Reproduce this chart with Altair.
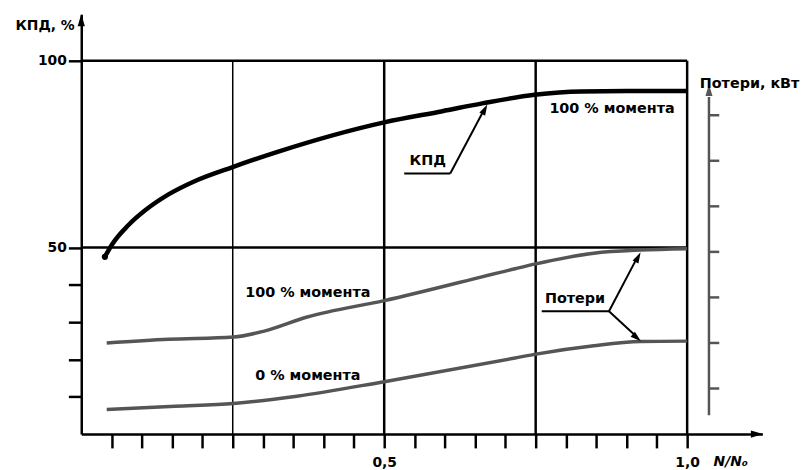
import altair as alt
import pandas as pd

# ---------------- data ----------------
# КПД curve: N/N0 and efficiency, %
eff_n = [0.039, 0.05, 0.078, 0.106, 0.144, 0.188, 0.251, 0.324, 0.5, 0.596, 0.662, 0.748, 0.825, 0.9, 1.0]
eff_pct = [47.5, 50.6, 56.0, 60.0, 64.2, 67.8, 71.6, 75.6, 83.5, 86.5, 88.6, 90.9, 91.8, 91.9, 91.9]

# Losses, kW (right axis) at 100 % torque
loss100_n = [0.042, 0.144, 0.251, 0.302, 0.373, 0.5, 0.716, 0.748, 0.846, 0.923, 1.0]
loss100_kw = [2.0, 2.08, 2.13, 2.26, 2.57, 2.93, 3.63, 3.73, 3.97, 4.04, 4.07]

# Losses, kW at 0 % torque
loss0_n = [0.042, 0.155, 0.251, 0.356, 0.5, 0.716, 0.748, 0.846, 0.923, 1.0]
loss0_kw = [0.54, 0.61, 0.67, 0.83, 1.15, 1.67, 1.75, 1.94, 2.03, 2.04]

x_ticks = [round(0.05 * i, 2) for i in range(1, 21)]
y_ticks = [10, 20, 30, 40, 50, 100]
grid_major_n = [0.5, 0.75, 1.0]
grid_minor_n = [0.25]
grid_h_pct = [50, 100]
loss_ticks_kw = [1, 2, 3, 4, 5, 6, 7]

label_text = ["КПД", "100 % момента", "100 % момента", "0 % момента", "Потери", "Потери, кВт"]
label_n = [0.572, 0.876, 0.374, 0.374, 0.815, 1.103]
label_pct = [73.2, 87.0, 37.9, 15.6, 36.1, 93.9]

# ---------------- scales / helpers ----------------
FONT = "DejaVu Sans"
GRAY = "#555555"
X_MAX = 1.1242          # x-axis arrow end
Y_MAX = 112.47          # y-axis arrow end (%)
KW_MAX = 9.217          # same height on the loss scale
RIGHT_AXIS_N = 1.036    # position of the "Потери" axis
ARROW = "M0,-1L0.6,1L-0.6,1Z"

xscale = alt.Scale(domain=[0, X_MAX], nice=False, zero=False)
pscale = alt.Scale(domain=[0, Y_MAX], nice=False, zero=False)
kscale = alt.Scale(domain=[0, KW_MAX], nice=False, zero=False)

xaxis = alt.Axis(
    values=x_ticks,
    labelExpr="datum.value == 0.5 ? '0,5' : (datum.value == 1 ? '1,0' : '')",
    tickSize=14, tickWidth=2.5, tickColor="black",
    domainWidth=2.5, domainColor="black",
    labelFont=FONT, labelFontWeight="bold", labelFontSize=14, labelColor="black",
    labelPadding=8, labelFlush=False, labelOverlap=False, grid=False,
)

yaxis = alt.Axis(
    values=y_ticks,
    labelExpr="(datum.value == 50 || datum.value == 100) ? datum.label : ''",
    tickSize=13, tickWidth=2.5, tickColor="black",
    domainWidth=2.5, domainColor="black",
    labelFont=FONT, labelFontWeight="bold", labelFontSize=14, labelColor="black",
    labelPadding=2, labelOverlap=False, grid=False,
    title="КПД, %", titleAngle=0, titleX=-37, titleY=11,
    titleAlign="center", titleBaseline="middle",
    titleFont=FONT, titleFontWeight="bold", titleFontSize=14, titleColor="black",
)


def X(field="n"):
    return alt.X(field, type="quantitative", scale=xscale, axis=xaxis, title="")


def YP(field="pct", axis=None):
    return alt.Y(field, type="quantitative", scale=pscale, axis=axis, title="")


def YK(field="kw"):
    return alt.Y(field, type="quantitative", scale=kscale, axis=None, title="")


def arrow_head(df, y_enc, color, size, angle=0):
    return (
        alt.Chart(df)
        .mark_point(shape=ARROW, filled=True, color=color, size=size, opacity=1,
                    angle=angle, strokeWidth=0)
        .encode(x=X(), y=y_enc)
    )


layers = []

# efficiency curve (carries the axes)
eff_df = pd.DataFrame({"n": eff_n, "pct": eff_pct})
layers.append(
    alt.Chart(eff_df).mark_line(color="black", strokeWidth=4.5, interpolate="monotone")
    .encode(x=X(), y=YP(axis=yaxis))
)
layers.append(
    alt.Chart(eff_df.head(1)).mark_point(filled=True, color="black", size=40, opacity=1)
    .encode(x=X(), y=YP())
)

# grid lines
gmaj = pd.DataFrame({"n": grid_major_n, "lo": 0, "hi": 100})
layers.append(
    alt.Chart(gmaj).mark_rule(color="black", strokeWidth=2.5)
    .encode(x=X(), y=YP("lo"), y2="hi")
)
gmin = pd.DataFrame({"n": grid_minor_n, "lo": 0, "hi": 100})
layers.append(
    alt.Chart(gmin).mark_rule(color="black", strokeWidth=1.5)
    .encode(x=X(), y=YP("lo"), y2="hi")
)
gh = pd.DataFrame({"pct": grid_h_pct, "n": 0, "n2": 1.0})
layers.append(
    alt.Chart(gh).mark_rule(color="black", strokeWidth=2.5)
    .encode(x=X(), x2="n2", y=YP())
)

# loss curves
l100 = pd.DataFrame({"n": loss100_n, "kw": loss100_kw})
layers.append(
    alt.Chart(l100).mark_line(color=GRAY, strokeWidth=3.5, interpolate="monotone")
    .encode(x=X(), y=YK())
)
l0 = pd.DataFrame({"n": loss0_n, "kw": loss0_kw})
layers.append(
    alt.Chart(l0).mark_line(color=GRAY, strokeWidth=3.5, interpolate="monotone")
    .encode(x=X(), y=YK())
)

# right "Потери" axis
rax = pd.DataFrame({"n": [RIGHT_AXIS_N], "lo": [0.41], "hi": [7.4]})
layers.append(
    alt.Chart(rax).mark_rule(color=GRAY, strokeWidth=2.5)
    .encode(x=X(), y=YK("lo"), y2="hi")
)
rt = pd.DataFrame({"kw": loss_ticks_kw, "n": RIGHT_AXIS_N, "n2": RIGHT_AXIS_N + 0.017})
layers.append(
    alt.Chart(rt).mark_rule(color=GRAY, strokeWidth=2.5)
    .encode(x=X(), x2="n2", y=YK())
)
layers.append(arrow_head(pd.DataFrame({"n": [RIGHT_AXIS_N], "kw": [7.55]}), YK(), GRAY, 140))

# axis arrow heads
layers.append(arrow_head(pd.DataFrame({"n": [0], "pct": [Y_MAX - 1.6]}), YP(), "black", 150))
layers.append(arrow_head(pd.DataFrame({"n": [X_MAX - 0.009], "pct": [0]}), YP(), "black", 150, 90))

# leader lines (underlines + pointers)
leaders = pd.DataFrame({
    "n": [0.533, 0.609, 0.760, 0.871, 0.871],
    "pct": [69.8, 69.8, 32.9, 32.9, 32.9],
    "n2": [0.609, 0.662, 0.871, 0.916, 0.913],
    "pct2": [69.8, 86.0, 32.9, 46.8, 26.6],
})
layers.append(
    alt.Chart(leaders).mark_rule(color="black", strokeWidth=2)
    .encode(x=X(), x2="n2", y=YP(), y2="pct2")
)
for n, p, ang in [(0.666, 87.0, 28), (0.919, 47.4, 28), (0.917, 25.8, 131)]:
    layers.append(arrow_head(pd.DataFrame({"n": [n], "pct": [p]}), YP(), "black", 120, ang))

# text annotations
txt = pd.DataFrame({"n": label_n, "pct": label_pct, "t": label_text})
layers.append(
    alt.Chart(txt).mark_text(font=FONT, fontWeight="bold", fontSize=14.5, color="black",
                             align="center", baseline="middle")
    .encode(x=X(), y=YP(), text="t")
)
layers.append(
    alt.Chart(pd.DataFrame({"n": [1.072], "pct": [-7.6], "t": ["N/N₀"]}))
    .mark_text(font=FONT, fontWeight="bold", fontStyle="italic", fontSize=14, color="black",
               align="center", baseline="middle")
    .encode(x=X(), y=YP(), text="t")
)

chart = (
    alt.layer(*layers)
    .resolve_scale(y="independent")
    .properties(
        width=688, height=424,
        autosize=alt.AutoSizeParams(type="none"),
        padding={"left": 74, "top": 4, "right": 40, "bottom": 36},
        background="white",
    )
    .configure_view(strokeWidth=0)
)

chart.save("out.html", embed_options={"renderer": "svg", "actions": False})
